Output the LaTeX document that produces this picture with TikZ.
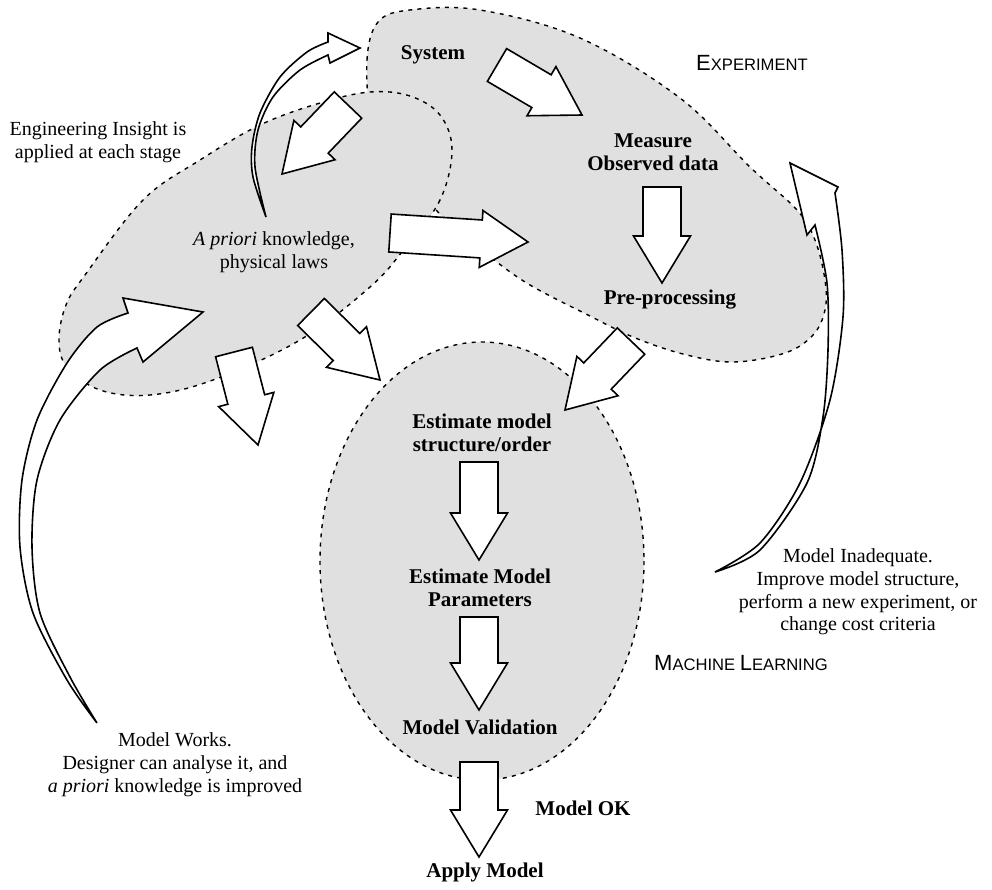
\documentclass[tikz,border=0pt]{standalone}
\usepackage{fontspec}
\setmainfont{Liberation Serif}
\setsansfont{Liberation Sans}
\usetikzlibrary{calc}

% fat block arrow from #1 (tail) to #2 (tip)
\newcommand{\fatarrow}[2]{%
  \coordinate (hb) at ($(#2)!23.5pt!(#1)$);
  \filldraw[fat] ($(#1)!9.5pt!90:(#2)$) -- ($(hb)!9.5pt!-90:(#1)$)
    -- ($(hb)!14.25pt!-90:(#1)$) -- (#2)
    -- ($(hb)!14.25pt!90:(#1)$) -- ($(hb)!9.5pt!90:(#1)$)
    -- ($(#1)!9.5pt!-90:(#2)$) -- cycle;}

\begin{document}
\begin{tikzpicture}[x=0.5pt, y=-0.5pt,
  blob/.style = {fill=black!12, draw, line width=0.7pt,
    dash pattern=on 2pt off 2.6pt},
  fat/.style = {draw, fill=white, line width=0.8pt, line join=miter},
  stage/.style = {align=center, font=\fontsize{10.5}{11.5}\selectfont\bfseries},
  note/.style = {align=center, font=\fontsize{10}{11.4}\selectfont},
  area/.style = {font=\sffamily}]
  \useasboundingbox (0,0) rectangle (992,890);

  % shaded regions
  \draw[blob] plot[smooth cycle, tension=0.6] coordinates {
    (372,120) (367,60) (378,22) (410,10) (480,10) (580,38) (680,98)
    (750,167) (797,210) (815,240) (825,280) (825,310) (813,335)
    (785,353) (733,362) (683,354) (633,337) (590,316) (530,285)
    (490,257) (455,230) (420,190) (395,150)};
  \draw[blob] plot[smooth cycle, tension=0.6] coordinates {
    (452,150) (440,200) (405,248) (370,287) (300,340) (213,380)
    (150,395) (100,390) (67,367) (59,340) (66,305) (85,275)
    (143,200) (200,160) (260,125) (320,103) (370,92) (410,96) (440,115)};
  \draw[blob] (482,561) ellipse [x radius=162, y radius=219];

  % labels
  \node[stage] (sys) at (433,55) {System};
  \node[area] (exp) at (752,63)
    {\fontsize{11}{13}\selectfont E\fontsize{8.3}{10}\selectfont XPERIMENT};
  \node[note] (insight) at (98,142) {Engineering Insight is\\applied at each stage};
  \node[stage] (meas) at (653,152) {Measure\\Observed data};
  \node[note] (apr) at (274,252) {\textit{A priori} knowledge,\\physical laws};
  \node[stage] (pre) at (670,300) {Pre-processing};
  \node[stage] (est) at (482,433) {Estimate model\\structure/order};
  \node[stage] (par) at (480,588) {Estimate Model\\Parameters};
  \node[stage] (val) at (480,727) {Model Validation};
  \node[stage] (ok) at (583,808) {Model OK};
  \node[stage] (apply) at (485,872) {Apply Model};
  \node[area] (ml) at (741,663)
    {\fontsize{11}{13}\selectfont M\fontsize{8.3}{10}\selectfont ACHINE
     \fontsize{11}{13}\selectfont L\fontsize{8.3}{10}\selectfont EARNING};
  \node[note] (inadeq) at (858,592)
    {Model Inadequate.\\Improve model structure,\\perform a new experiment, or\\change cost criteria};
  \node[note] (works) at (175,765)
    {Model Works.\\Designer can analyse it, and\\\textit{a priori} knowledge is improved};

  % arrow ends
  \coordinate (sysout) at (348,105);  \coordinate (aprin) at (282,174);
  \coordinate (sysout2) at (497,65);  \coordinate (measin) at (582,115);
  \coordinate (measout) at (662,187); \coordinate (prein) at (662,283);
  \coordinate (aprout) at (390,233);  \coordinate (expin) at (528,242);
  \coordinate (aprout2) at (311,312); \coordinate (estin) at (380,380);
  \coordinate (aprout3) at (234,352); \coordinate (aprend) at (258,445);
  \coordinate (preout) at (631,341);  \coordinate (estin2) at (565,410);
  \coordinate (estout) at (479,462);  \coordinate (parin) at (479,560);
  \coordinate (parout) at (479,617);  \coordinate (valin) at (479,710);
  \coordinate (valout) at (479,762);  \coordinate (applyin) at (479,857);

  \fatarrow{sysout}{aprin}
  \fatarrow{sysout2}{measin}
  \fatarrow{measout}{prein}
  \fatarrow{aprout}{expin}
  \fatarrow{aprout2}{estin}
  \fatarrow{aprout3}{aprend}
  \fatarrow{preout}{estin2}
  \fatarrow{estout}{parin}
  \fatarrow{parout}{valin}
  \fatarrow{valout}{applyin}

  % curved feedback arrows
  \filldraw[fat] (266,217) -- plot[smooth] coordinates {(266,217) (253,177)
      (252,147) (260,113) (280,77) (307,52) (328,42)}
    -- (328,33) -- (360,48) -- (330,63) -- plot[smooth] coordinates {(328,55)
      (300,70) (273,97) (258,130) (255,167) (266,217)} -- cycle;
  \filldraw[fat] (97,723) -- plot[smooth] coordinates {(97,723) (67,680)
      (33,613) (20,547) (22,480) (37,420) (67,363) (97,327) (128,313)}
    -- (123,298) -- (203,312) -- (143,362) -- plot[smooth] coordinates {(137,348)
      (100,370) (60,420) (37,480) (32,547) (40,613) (70,677) (97,723)} -- cycle;
  \filldraw[fat] (715,572) -- plot[smooth] coordinates {(715,572) (760,543)
      (800,483) (830,400) (843,317) (842,250) (835,193)}
    -- (838,187) -- (790,163) -- (807,235) -- plot[smooth] coordinates {(815,225)
      (827,283) (828,350) (823,417) (807,483) (760,550) (715,572)} -- cycle;
\end{tikzpicture}
\end{document}
